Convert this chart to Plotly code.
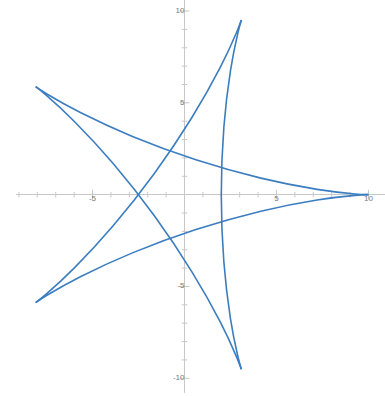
import plotly.graph_objects as go

# Five arcs of the star-shaped curve, each running from one cusp to the next
arc1_x = [10.00, 9.27, 7.21, 4.15, 0.62, -2.83, -5.66, -7.48, -8.09]
arc1_y = [0.00, 0.04, 0.29, 0.90, 1.90, 3.17, 4.47, 5.48, 5.88]

arc2_x = [-8.09, -7.52, -6.00, -3.89, -1.62, 0.42, 1.95, 2.83, 3.09]
arc2_y = [5.88, 5.42, 4.00, 1.71, -1.18, -4.23, -6.94, -8.83, -9.51]

arc3_x = [3.09, 2.90, 2.50, 2.14, 2.00, 2.14, 2.50, 2.90, 3.09]
arc3_y = [-9.51, -8.80, -6.76, -3.67, 0.00, 3.67, 6.76, 8.80, 9.51]

arc4_x = [3.09, 2.83, 1.95, 0.42, -1.62, -3.89, -6.00, -7.52, -8.09]
arc4_y = [9.51, 8.83, 6.94, 4.23, 1.18, -1.71, -4.00, -5.42, -5.88]

arc5_x = [-8.09, -7.48, -5.66, -2.83, 0.62, 4.15, 7.21, 9.27, 10.00]
arc5_y = [-5.88, -5.48, -4.47, -3.17, -1.90, -0.90, -0.29, -0.04, 0.00]

arcs = [(arc1_x, arc1_y), (arc2_x, arc2_y), (arc3_x, arc3_y),
        (arc4_x, arc4_y), (arc5_x, arc5_y)]

# Axis ticks
x_major = [-5, 5, 10]
x_minor = [-9, -8, -7, -6, -4, -3, -2, -1, 1, 2, 3, 4, 6, 7, 8, 9]
y_major = [-10, -5, 5, 10]
y_minor = [-9, -8, -7, -6, -4, -3, -2, -1, 1, 2, 3, 4, 6, 7, 8, 9]
x_labels = ["-5", "5", "10"]
y_labels = ["-10", "-5", "5", "10"]

curve_color = "#3b7dc0"
axis_color = "#c8c8c8"
label_color = "#7a7a7a"


def tick_marker(symbol, size):
    return dict(symbol=symbol, size=size, color=axis_color,
                line=dict(color=axis_color, width=1))


fig = go.Figure()

# tick marks on the axes
fig.add_trace(go.Scatter(
    x=x_minor, y=[0] * len(x_minor), mode="markers",
    marker=tick_marker("line-ns-open", 4),
    hoverinfo="skip", showlegend=False))
fig.add_trace(go.Scatter(
    x=x_major, y=[0] * len(x_major), mode="markers",
    marker=tick_marker("line-ns-open", 7),
    hoverinfo="skip", showlegend=False))
fig.add_trace(go.Scatter(
    x=[0] * len(y_minor), y=y_minor, mode="markers",
    marker=tick_marker("line-ew-open", 4),
    hoverinfo="skip", showlegend=False))
fig.add_trace(go.Scatter(
    x=[0] * len(y_major), y=y_major, mode="markers",
    marker=tick_marker("line-ew-open", 7),
    hoverinfo="skip", showlegend=False))

# tick labels
fig.add_trace(go.Scatter(
    x=x_major, y=[0] * len(x_major), mode="text", text=x_labels,
    textposition="bottom center",
    textfont=dict(family="Liberation Sans", size=8, color=label_color),
    hoverinfo="skip", showlegend=False))
fig.add_trace(go.Scatter(
    x=[0] * len(y_major), y=y_major, mode="text", text=y_labels,
    textposition="middle left",
    textfont=dict(family="Liberation Sans", size=8, color=label_color),
    hoverinfo="skip", showlegend=False))

# the curve
for ax, ay in arcs:
    fig.add_trace(go.Scatter(
        x=ax, y=ay, mode="lines",
        line=dict(color=curve_color, width=1.6, shape="spline", smoothing=1.0),
        hoverinfo="skip", showlegend=False))

fig.update_layout(
    width=385, height=396,
    margin=dict(l=16, r=0, t=0, b=3),
    paper_bgcolor="white", plot_bgcolor="white",
    xaxis=dict(range=[-9.16, 10.9], showgrid=False, showticklabels=False,
               ticks="", zeroline=True, zerolinecolor=axis_color, zerolinewidth=1,
               showline=False, fixedrange=True),
    yaxis=dict(range=[-10.8, 10.6], showgrid=False, showticklabels=False,
               ticks="", zeroline=True, zerolinecolor=axis_color, zerolinewidth=1,
               showline=False, fixedrange=True),
)

fig.write_html("out.html")
